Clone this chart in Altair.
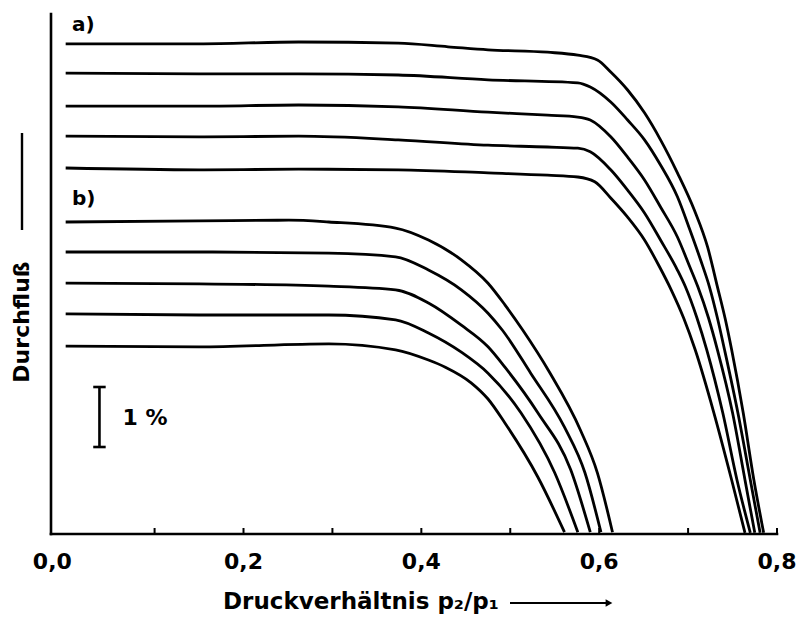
import altair as alt
import pandas as pd

# ---- data (x = p2/p1, y = Durchfluss in % units) ----
a1_x = [0.000, 0.150, 0.262, 0.374, 0.430, 0.475, 0.542, 0.576, 0.598, 0.613, 0.632, 0.651, 0.669, 0.688, 0.707, 0.722, 0.733, 0.742, 0.749, 0.762, 0.774, 0.785]
a1_y = [8.17, 8.17, 8.20, 8.18, 8.12, 8.07, 8.03, 7.98, 7.90, 7.70, 7.40, 7.02, 6.57, 6.02, 5.40, 4.78, 4.12, 3.57, 3.07, 2.02, 0.90, 0.02]
a2_x = [0.000, 0.150, 0.262, 0.374, 0.475, 0.576, 0.590, 0.613, 0.632, 0.651, 0.669, 0.688, 0.702, 0.714, 0.724, 0.733, 0.741, 0.756, 0.770, 0.781]
a2_y = [7.68, 7.67, 7.67, 7.65, 7.57, 7.52, 7.45, 7.20, 6.90, 6.57, 6.15, 5.62, 5.07, 4.57, 4.12, 3.60, 3.07, 2.02, 0.90, 0.02]
a3_x = [0.000, 0.150, 0.262, 0.374, 0.475, 0.542, 0.576, 0.590, 0.613, 0.632, 0.651, 0.669, 0.688, 0.702, 0.711, 0.723, 0.733, 0.750, 0.764, 0.775]
a3_y = [7.13, 7.13, 7.15, 7.12, 7.03, 6.98, 6.95, 6.90, 6.62, 6.28, 5.90, 5.45, 4.95, 4.45, 4.12, 3.60, 3.07, 2.02, 0.90, 0.02]
a4_x = [0.000, 0.150, 0.262, 0.374, 0.475, 0.542, 0.576, 0.590, 0.613, 0.632, 0.651, 0.669, 0.688, 0.697, 0.710, 0.721, 0.739, 0.755, 0.770]
a4_y = [6.63, 6.62, 6.63, 6.57, 6.48, 6.45, 6.43, 6.37, 6.07, 5.73, 5.35, 4.90, 4.40, 4.12, 3.60, 3.07, 2.02, 0.90, 0.02]
a5_x = [0.000, 0.150, 0.262, 0.374, 0.475, 0.542, 0.576, 0.595, 0.613, 0.632, 0.651, 0.668, 0.681, 0.695, 0.708, 0.729, 0.749, 0.764]
a5_y = [6.10, 6.07, 6.08, 6.07, 6.02, 5.98, 5.95, 5.87, 5.60, 5.28, 4.90, 4.45, 4.07, 3.60, 3.07, 2.02, 0.90, 0.02]

b1_x = [0.000, 0.150, 0.251, 0.296, 0.371, 0.408, 0.445, 0.475, 0.494, 0.514, 0.544, 0.579, 0.598, 0.615]
b1_y = [5.20, 5.22, 5.23, 5.20, 5.10, 4.90, 4.57, 4.18, 3.82, 3.40, 2.70, 1.73, 1.02, 0.03]
b2_x = [0.000, 0.150, 0.296, 0.371, 0.408, 0.445, 0.475, 0.491, 0.523, 0.561, 0.584, 0.602]
b2_y = [4.70, 4.70, 4.68, 4.62, 4.40, 4.07, 3.68, 3.40, 2.68, 1.78, 1.02, 0.03]
b3_x = [0.000, 0.150, 0.296, 0.371, 0.408, 0.445, 0.475, 0.494, 0.531, 0.568, 0.590]
b3_y = [4.18, 4.17, 4.13, 4.07, 3.85, 3.48, 3.12, 2.78, 2.02, 1.07, 0.03]
b4_x = [0.000, 0.150, 0.296, 0.371, 0.408, 0.445, 0.475, 0.512, 0.550, 0.576]
b4_y = [3.67, 3.65, 3.65, 3.57, 3.35, 3.03, 2.68, 2.02, 1.02, 0.03]
b5_x = [0.000, 0.150, 0.296, 0.371, 0.408, 0.427, 0.456, 0.475, 0.494, 0.531, 0.561]
b5_y = [3.13, 3.12, 3.17, 3.07, 2.90, 2.78, 2.52, 2.25, 1.85, 0.95, 0.03]

x_domain = [-0.0165, 0.8]
y_domain = [0, 8.667]
tick_values = [0.1, 0.2, 0.3, 0.4, 0.5, 0.6, 0.7, 0.8]
tick_label_x = [-0.015, 0.2, 0.4, 0.6, 0.8]
tick_label_text = ["0,0", "0,2", "0,4", "0,6", "0,8"]

group_labels = ["a)", "b)"]
group_label_x = [0.007, 0.007]
group_label_y = [8.48, 5.58]

scale_bar_x = 0.038
scale_bar_y = [1.45, 2.45]  # exactly 1 %
scale_bar_cap = [0.031, 0.045]
scale_text = "1 %"
scale_text_x = 0.064
scale_text_y = 1.93

# ---- build table ----
series = [("a1", a1_x, a1_y), ("a2", a2_x, a2_y), ("a3", a3_x, a3_y),
          ("a4", a4_x, a4_y), ("a5", a5_x, a5_y),
          ("b1", b1_x, b1_y), ("b2", b2_x, b2_y), ("b3", b3_x, b3_y),
          ("b4", b4_x, b4_y), ("b5", b5_x, b5_y)]
rows = []
for name, xs, ys in series:
    for i, (xv, yv) in enumerate(zip(xs, ys)):
        rows.append({"curve": name, "order": i, "x": xv, "y": yv})
df = pd.DataFrame(rows)

FONT = "DejaVu Sans"
W, H = 726, 520
XS = alt.Scale(domain=x_domain, nice=False, zero=False)
YS = alt.Scale(domain=y_domain, nice=False, zero=False)


def X(field):
    return alt.X(field, scale=XS, axis=None)


def Y(field):
    return alt.Y(field, scale=YS, axis=None)


lines = alt.Chart(df).mark_line(color="black", strokeWidth=2.8, interpolate="monotone").encode(
    x=X("x:Q"), y=Y("y:Q"), detail="curve:N", order="order:Q",
)

# axis lines (drawn through the scales)
x_axis_line = alt.Chart(pd.DataFrame({"x": [x_domain[0]], "x2": [x_domain[1]], "y": [y_domain[0]]})).mark_rule(
    color="black", strokeWidth=2.6, strokeCap="square").encode(x=X("x:Q"), x2="x2:Q", y=Y("y:Q"))
y_axis_line = alt.Chart(pd.DataFrame({"x": [x_domain[0]], "y": [y_domain[0]], "y2": [y_domain[1]]})).mark_rule(
    color="black", strokeWidth=2.6, strokeCap="square").encode(x=X("x:Q"), y=Y("y:Q"), y2="y2:Q")

ticks = alt.Chart(pd.DataFrame({"t": tick_values})).mark_rule(color="black", strokeWidth=2).encode(
    x=X("t:Q"), y=alt.value(H), y2=alt.value(H - 6),
)

tick_labels = alt.Chart(pd.DataFrame({"lab": tick_label_text, "x": tick_label_x})).mark_text(
    align="center", baseline="top", font=FONT, fontSize=22, fontWeight="bold", color="black"
).encode(x=X("x:Q"), y=alt.value(H + 18), text="lab:N")

grp = alt.Chart(pd.DataFrame({"lab": group_labels, "x": group_label_x, "y": group_label_y})).mark_text(
    align="left", baseline="middle", font=FONT, fontSize=20, fontWeight="bold", color="black"
).encode(x=X("x:Q"), y=Y("y:Q"), text="lab:N")

bar = alt.Chart(pd.DataFrame({"x": [scale_bar_x], "y": [scale_bar_y[0]], "y2": [scale_bar_y[1]]})).mark_rule(
    color="black", strokeWidth=2.6).encode(x=X("x:Q"), y=Y("y:Q"), y2="y2:Q")

caps = alt.Chart(pd.DataFrame({"x": [scale_bar_cap[0]] * 2, "x2": [scale_bar_cap[1]] * 2, "y": scale_bar_y})).mark_rule(
    color="black", strokeWidth=2.6).encode(x=X("x:Q"), x2="x2:Q", y=Y("y:Q"))

pct = alt.Chart(pd.DataFrame({"lab": [scale_text], "x": [scale_text_x], "y": [scale_text_y]})).mark_text(
    align="left", baseline="middle", font=FONT, fontSize=22, fontWeight="bold", color="black"
).encode(x=X("x:Q"), y=Y("y:Q"), text="lab:N")

ytitle = alt.Chart(pd.DataFrame({"lab": ["Durchfluß"]})).mark_text(
    angle=270, align="center", baseline="middle", font=FONT, fontSize=22, fontWeight="bold", color="black"
).encode(x=alt.value(-29), y=alt.value(308), text="lab:N")

yarrow = alt.Chart(pd.DataFrame({"k": [0]})).mark_rule(color="black", strokeWidth=2.4).encode(
    x=alt.value(-29), y=alt.value(119), y2=alt.value(216))

xtitle = alt.Chart(pd.DataFrame({"lab": ["Druckverhältnis p₂/p₁"]})).mark_text(
    align="left", baseline="middle", font=FONT, fontSize=23, fontWeight="bold", color="black"
).encode(x=alt.value(172), y=alt.value(588), text="lab:N")

xarrow = alt.Chart(pd.DataFrame({"k": [0]})).mark_rule(color="black", strokeWidth=2.2).encode(
    x=alt.value(459), x2=alt.value(556), y=alt.value(589))

xhead = alt.Chart(pd.DataFrame({"k": [0]})).mark_point(
    shape="triangle-right", filled=True, color="black", size=60, opacity=1).encode(
    x=alt.value(558), y=alt.value(589))

chart = alt.layer(
    x_axis_line, y_axis_line, ticks, tick_labels, lines, grp, bar, caps, pct,
    ytitle, yarrow, xtitle, xarrow, xhead,
).properties(
    width=W, height=H,
    autosize=alt.AutoSizeParams(type="none"),
    padding={"left": 43, "top": 6, "right": 20, "bottom": 90},
    background="white",
).configure_view(stroke=None)

chart.save("out.html", embed_options={"renderer": "svg", "actions": False})
